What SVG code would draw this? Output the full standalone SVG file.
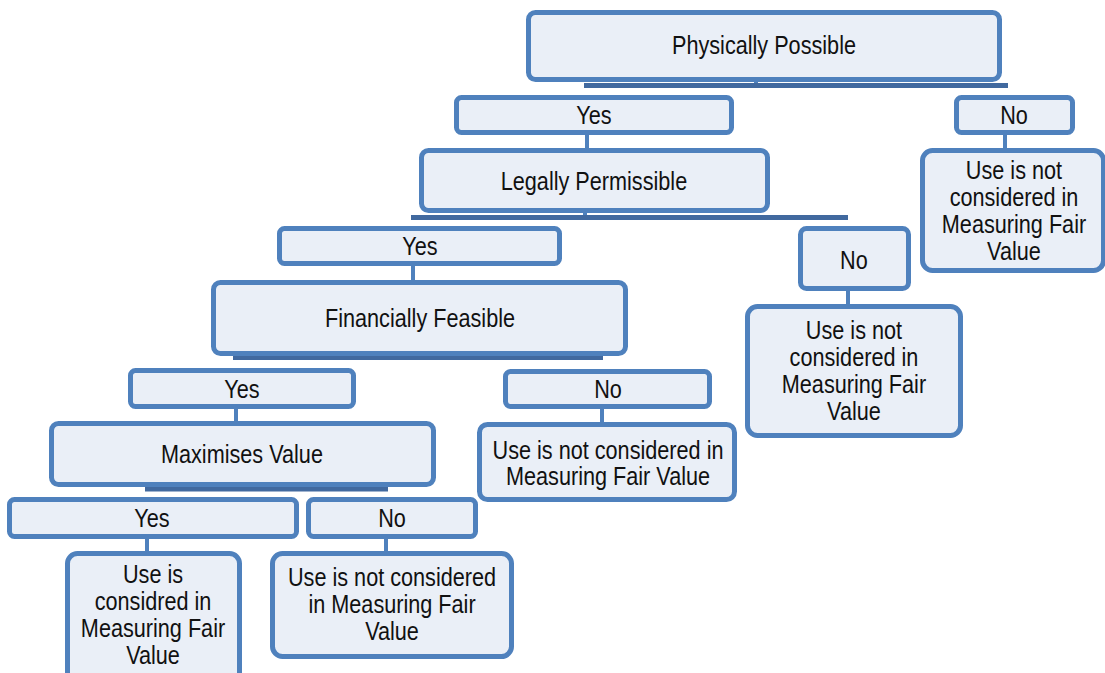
<svg xmlns="http://www.w3.org/2000/svg" width="1105" height="673" viewBox="0 0 1105 673">
<style>
.box{fill:#eaeff7;stroke:#4f81bd;stroke-width:5}
.bar{stroke:#41699f;stroke-width:5;fill:none}
.stub{stroke:#4f81bd;stroke-width:4;fill:none}
text{font-family:"Liberation Sans",Arial,sans-serif;font-size:25px;fill:#111;text-anchor:middle}
</style>
<rect width="1105" height="673" fill="#fff"/>
<g id="connectors">
<line class="stub" x1="756" y1="80" x2="756" y2="86"/>
<line class="bar" x1="584" y1="85.5" x2="1008" y2="85.5"/>
<line class="stub" x1="587" y1="134" x2="587" y2="149"/>
<line class="stub" x1="1005" y1="134" x2="1005" y2="149"/>
<line class="stub" x1="585" y1="211" x2="585" y2="217"/>
<line class="bar" x1="411" y1="217.5" x2="848" y2="217.5"/>
<line class="stub" x1="413" y1="265" x2="413" y2="281"/>
<line class="stub" x1="848" y1="290" x2="848" y2="305"/>
<line class="bar" x1="233" y1="357.5" x2="603" y2="357.5"/>
<line class="stub" x1="236" y1="408" x2="236" y2="422"/>
<line class="stub" x1="602" y1="408" x2="602" y2="423"/>
<line class="bar" x1="145" y1="489" x2="388" y2="489"/>
<line class="stub" x1="147" y1="538" x2="147" y2="552"/>
<line class="stub" x1="386" y1="538" x2="386" y2="552"/>
</g>
<g id="physically-possible"><rect class="box" x="528.5" y="12.5" width="471" height="67" rx="7"/><text transform="scale(0.866,1)" x="882.2" y="54">Physically Possible</text></g>
<g id="yes1"><rect class="box" x="456.5" y="97.5" width="275" height="35" rx="5"/><text transform="scale(0.866,1)" x="685.9" y="124">Yes</text></g>
<g id="no1"><rect class="box" x="956.5" y="97.5" width="116" height="35" rx="5"/><text transform="scale(0.866,1)" x="1170.9" y="124">No</text></g>
<g id="legally-permissible"><rect class="box" x="421.5" y="150.5" width="346" height="60" rx="7"/><text transform="scale(0.866,1)" x="685.9" y="190">Legally Permissible</text></g>
<g id="not-considered-1"><rect class="box" x="922.5" y="150.5" width="181" height="120" rx="10"/>
<g transform="scale(0.866,1)"><text x="1170.9" y="179">Use is not</text><text x="1170.9" y="206">considered in</text><text x="1170.9" y="233">Measuring Fair</text><text x="1170.9" y="260">Value</text></g></g>
<g id="yes2"><rect class="box" x="279.5" y="228.5" width="280" height="35" rx="5"/><text transform="scale(0.866,1)" x="485" y="255">Yes</text></g>
<g id="no2"><rect class="box" x="800.5" y="228.5" width="108" height="60" rx="6"/><text transform="scale(0.866,1)" x="986.1" y="269">No</text></g>
<g id="financially-feasible"><rect class="box" x="213.5" y="282.5" width="412" height="71" rx="7"/><text transform="scale(0.866,1)" x="485" y="327">Financially Feasible</text></g>
<g id="not-considered-2"><rect class="box" x="747.5" y="306.5" width="213" height="129" rx="10"/>
<g transform="scale(0.866,1)"><text x="986.1" y="339">Use is not</text><text x="986.1" y="366">considered in</text><text x="986.1" y="393">Measuring Fair</text><text x="986.1" y="420">Value</text></g></g>
<g id="yes3"><rect class="box" x="130.5" y="370.5" width="223" height="36" rx="5"/><text transform="scale(0.866,1)" x="279.4" y="398">Yes</text></g>
<g id="no3"><rect class="box" x="505.5" y="371.5" width="204" height="35" rx="5"/><text transform="scale(0.866,1)" x="702.1" y="398">No</text></g>
<g id="not-considered-3"><rect class="box" x="479.5" y="424.5" width="255" height="75" rx="8"/>
<g transform="scale(0.866,1)"><text x="702.1" y="459">Use is not considered in</text><text x="702.1" y="485">Measuring Fair Value</text></g></g>
<g id="maximises-value"><rect class="box" x="51.5" y="423.5" width="382" height="61" rx="7"/><text transform="scale(0.866,1)" x="279.4" y="463">Maximises Value</text></g>
<g id="yes4"><rect class="box" x="9.5" y="499.5" width="287" height="37" rx="5"/><text transform="scale(0.866,1)" x="175.5" y="527">Yes</text></g>
<g id="no4"><rect class="box" x="308.5" y="499.5" width="167" height="37" rx="5"/><text transform="scale(0.866,1)" x="452.7" y="527">No</text></g>
<g id="considered"><rect class="box" x="67.5" y="553.5" width="172" height="130" rx="10"/>
<g transform="scale(0.866,1)"><text x="176.7" y="583">Use is</text><text x="176.7" y="610">considred in</text><text x="176.7" y="637">Measuring Fair</text><text x="176.7" y="664">Value</text></g></g>
<g id="not-considered-4"><rect class="box" x="272.5" y="553.5" width="239" height="103" rx="10"/>
<g transform="scale(0.866,1)"><text x="452.7" y="586">Use is not considered</text><text x="452.7" y="613">in Measuring Fair</text><text x="452.7" y="640">Value</text></g></g>
</svg>
